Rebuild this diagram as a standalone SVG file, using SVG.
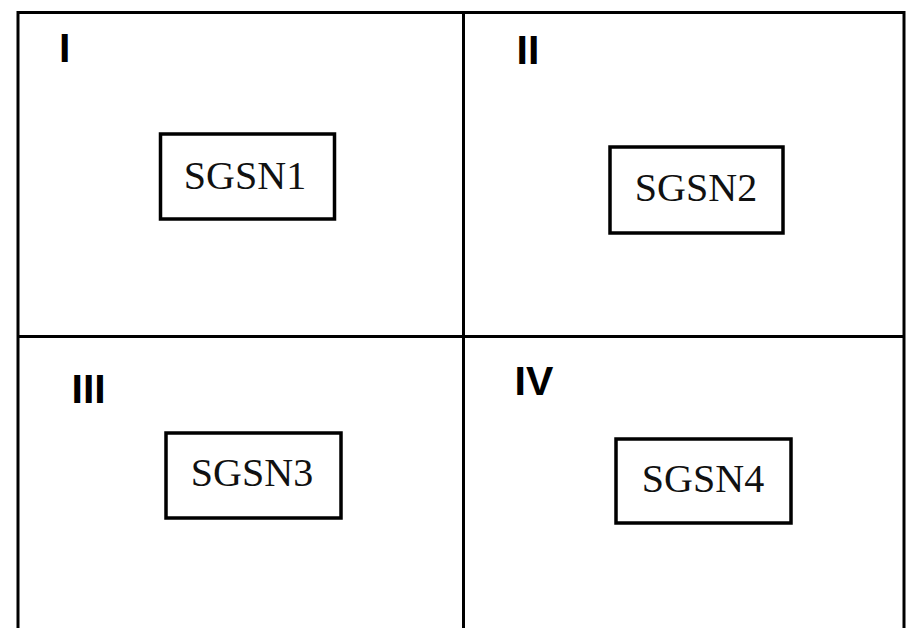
<svg xmlns="http://www.w3.org/2000/svg" width="907" height="628" viewBox="0 0 907 628">
  <style>
    .frame { fill: none; stroke: #000; stroke-width: 3; }
    .node rect { fill: #fff; stroke: #000; stroke-width: 3.5; }
    .node text { font-family: "Liberation Serif", "Times New Roman", serif; font-size: 40px; fill: #111; text-anchor: middle; }
    .quad { font-family: "Liberation Sans", Arial, sans-serif; font-weight: bold; font-size: 41px; fill: #000; }
  </style>
  <rect width="907" height="628" fill="#fff"/>

  <!-- grid dividing the area into four quadrants -->
  <g id="grid" class="frame">
    <polyline points="18,640 18,12.5 904,12.5 904,640"/>
    <line x1="463.5" y1="12.5" x2="463.5" y2="640"/>
    <line x1="18" y1="336.5" x2="904" y2="336.5"/>
  </g>

  <!-- quadrant labels -->
  <g id="quadrant-labels">
    <text class="quad" x="59" y="62">I</text>
    <text class="quad" x="516.5" y="64">II</text>
    <text class="quad" x="71.5" y="403">III</text>
    <text class="quad" x="514.5" y="395">IV</text>
  </g>

  <g id="connectors"></g>

  <g id="sgsn1" class="node">
    <rect x="160.5" y="134" width="174" height="85"/>
    <text x="245" y="189">SGSN1</text>
  </g>
  <g id="sgsn2" class="node">
    <rect x="610" y="147" width="173" height="86"/>
    <text x="696" y="201">SGSN2</text>
  </g>
  <g id="sgsn3" class="node">
    <rect x="166" y="433" width="175" height="85"/>
    <text x="252" y="486">SGSN3</text>
  </g>
  <g id="sgsn4" class="node">
    <rect x="616" y="439" width="175" height="84"/>
    <text x="703" y="492">SGSN4</text>
  </g>
</svg>
